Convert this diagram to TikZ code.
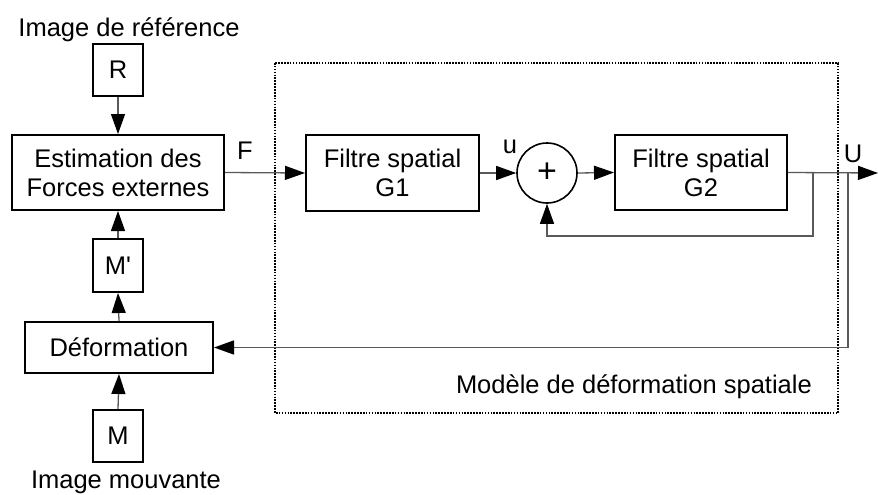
\documentclass[tikz,border=0pt]{standalone}
\usepackage{fontspec}
\setmainfont{Liberation Sans}
\usetikzlibrary{arrows.meta}
\begin{document}
\begin{tikzpicture}[x=1pt,y=-1pt,
  every node/.style={font=\fontsize{25.5}{29}\selectfont, inner sep=0pt},
  blk/.style={draw=black, line width=2pt, align=center, fill=white},
  con/.style={draw=black!65, line width=1.3pt},
  arr/.style={con, -{Triangle[length=20pt,width=14pt,color=black,fill=black]}},
  lbl/.style={text=black}
]
\useasboundingbox (0,0) rectangle (878,495);
% dotted box
\draw[line width=2pt, dash pattern=on 1.6pt off 1.3pt] (275,63) rectangle (838,413);
\node[lbl, anchor=base east] (model) at (812,393) {Modèle de déformation spatiale};

% left column
\node[lbl, anchor=base] (reftxt) at (129,37) {Image de référence};
\node[blk, minimum width=50pt, minimum height=52pt] (R) at (118,70) {R};
\node[blk, minimum width=212pt, minimum height=75pt] (est) at (118,172.5) {Estimation des\\Forces externes};
\node[blk, minimum width=50pt, minimum height=53pt] (Mp) at (118,265.5) {M\textquotesingle};
\node[blk, minimum width=188pt, minimum height=51pt] (def) at (119,347.5) {Déformation};
\node[blk, minimum width=50pt, minimum height=52pt] (M) at (118,436) {M};
\node[lbl, anchor=base] (movtxt) at (126,488) {Image mouvante};

% main chain
\node[blk, minimum width=173pt, minimum height=76pt] (G1) at (392.5,173) {Filtre spatial\\G1};
\node[draw=black, line width=1.6pt, circle, minimum size=60pt, fill=white] (sum) at (547,173) {\fontsize{34}{34}\selectfont +};
\node[blk, minimum width=172pt, minimum height=75pt] (G2) at (701,172.5) {Filtre spatial\\G2};

\coordinate (out) at (878,173);
\coordinate (b1) at (813,173);
\coordinate (b2) at (848,173);
\coordinate (b1d) at (813,236);
\coordinate (b2d) at (848,347.5);

% labels
\node[lbl] (Flab) at (245,151) {F};
\node[lbl] (ulab) at (510,147) {u};
\node[lbl] (Ulab) at (853,154) {U};

% connectors
\draw[arr] (R.south) -- (est.north);
\draw[arr] (Mp.north) -- (est.south);
\draw[arr] (def.north) -- (Mp.south);
\draw[arr] (M.north) -- (def.south);
\draw[arr] (est.east) -- (G1.west);
\draw[arr] (G1.east) -- (sum.west);
\draw[arr] (sum.east) -- (G2.west);
\draw[arr] (G2.east) -- (out);
\draw[arr] (b1) -- (b1d) -| (sum.south);
\draw[arr] (b2) -- (b2d) -- (def.east);
\end{tikzpicture}
\end{document}
